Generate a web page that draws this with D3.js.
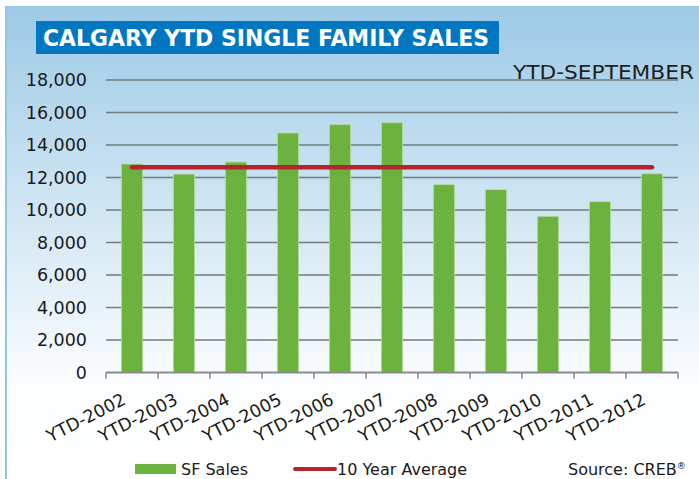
<!DOCTYPE html>
<html>
<head>
<meta charset="utf-8">
<script src="https://cdn.jsdelivr.net/npm/d3@7"></script>
<style>
  body { margin: 0; background: #fff; }
  text { font-family: "DejaVu Sans", sans-serif; }
</style>
</head>
<body>
<div id="chart"></div>
<script>
// data
const years = ["YTD-2002", "YTD-2003", "YTD-2004", "YTD-2005", "YTD-2006", "YTD-2007",
               "YTD-2008", "YTD-2009", "YTD-2010", "YTD-2011", "YTD-2012"];
const sfSales = [12830, 12210, 12950, 14740, 15250, 15370, 11560, 11250, 9610, 10510, 12230];
const tenYearAvg = 12630;
const yTicks = [0, 2000, 4000, 6000, 8000, 10000, 12000, 14000, 16000, 18000];

const W = 699, H = 479;
const margin = {top: 80, right: 21, bottom: 106.5, left: 106};
const width = W - margin.left - margin.right,
      height = H - margin.top - margin.bottom;

const svg = d3.select("#chart")
  .append("svg")
    .attr("width", W)
    .attr("height", H);

// background panel gradient
const grad = svg.append("defs").append("linearGradient")
    .attr("id", "bg").attr("x1", 0).attr("y1", 0).attr("x2", 0).attr("y2", 1);
grad.append("stop").attr("offset", "0%").attr("stop-color", "#9ccae6");
grad.append("stop").attr("offset", "40%").attr("stop-color", "#cde4f2");
grad.append("stop").attr("offset", "80%").attr("stop-color", "#fbfdfe");
grad.append("stop").attr("offset", "100%").attr("stop-color", "#ffffff");

svg.append("rect")
    .attr("x", 5).attr("y", 6)
    .attr("width", W - 5).attr("height", H - 6)
    .attr("fill", "url(#bg)");
svg.append("line")
    .attr("x1", 6).attr("x2", 6).attr("y1", 6).attr("y2", H)
    .attr("stroke", "#93c4e3").attr("stroke-width", 2);

// title
svg.append("rect")
    .attr("x", 36).attr("y", 21)
    .attr("width", 463).attr("height", 33)
    .attr("fill", "#0077c0");
svg.append("text")
    .attr("x", 43).attr("y", 46)
    .attr("textLength", 446)
    .attr("lengthAdjust", "spacingAndGlyphs")
    .attr("font-family", "'Open Sans', sans-serif")
    .attr("font-size", "23px")
    .attr("font-weight", 600)
    .attr("fill", "#fff")
    .text("CALGARY YTD SINGLE FAMILY SALES");

const g = svg.append("g")
    .attr("transform", `translate(${margin.left},${margin.top})`);

// scales
const x = d3.scaleBand()
    .domain(years)
    .range([0, width])
    .padding(0);
const y = d3.scaleLinear()
    .domain([0, 18000])
    .range([height, 0]);

// gridlines
g.selectAll(".grid")
  .data(yTicks.filter(d => d > 0))
  .join("line")
    .attr("x1", 0).attr("x2", width)
    .attr("y1", d => y(d)).attr("y2", d => y(d))
    .attr("stroke", "#6f7d7c")
    .attr("stroke-width", 1.6);

// subtitle
svg.append("text")
    .attr("x", 513).attr("y", 79)
    .attr("textLength", 181)
    .attr("lengthAdjust", "spacingAndGlyphs")
    .attr("font-size", "19px")
    .attr("fill", "#1f1f1f")
    .text("YTD-SEPTEMBER");

// Y axis labels
const yAxis = g.append("g")
    .call(d3.axisLeft(y).tickValues(yTicks).tickFormat(d3.format(",")).tickSize(0).tickPadding(19));
yAxis.select(".domain").remove();
yAxis.selectAll("text")
    .attr("font-family", "DejaVu Sans")
    .attr("font-size", "17.5px")
    .attr("fill", "#1a1a1a");

// bars
const barW = x.bandwidth() * 0.41;
g.selectAll(".bar")
  .data(years)
  .join("rect")
    .attr("x", d => x(d) + (x.bandwidth() - barW) / 2)
    .attr("y", (d, i) => y(sfSales[i]))
    .attr("width", barW)
    .attr("height", (d, i) => height - y(sfSales[i]))
    .attr("fill", "#6cb23f")
    .attr("stroke", "#b9dca6")
    .attr("stroke-width", 0.8);

// 10 year average line
g.append("line")
    .attr("x1", x(years[0]) + x.bandwidth() / 2)
    .attr("x2", x(years[years.length - 1]) + x.bandwidth() / 2)
    .attr("y1", y(tenYearAvg)).attr("y2", y(tenYearAvg))
    .attr("stroke", "#b5232b")
    .attr("stroke-width", 4.5)
    .attr("stroke-linecap", "round");

// X axis line + ticks at band edges
g.append("line")
    .attr("x1", 0).attr("x2", width)
    .attr("y1", height).attr("y2", height)
    .attr("stroke", "#8a8a8a").attr("stroke-width", 2);
g.selectAll(".xtick")
  .data(years.map(d => x(d)).concat([width]))
  .join("line")
    .attr("x1", d => d).attr("x2", d => d)
    .attr("y1", height).attr("y2", height + 6)
    .attr("stroke", "#8a8a8a").attr("stroke-width", 1.5);

// X labels, rotated
g.selectAll(".xlabel")
  .data(years)
  .join("text")
    .attr("transform", d => `translate(${x(d) + x.bandwidth() / 2 - 5},${height + 31}) rotate(-27)`)
    .attr("text-anchor", "end")
    .attr("font-size", "17.5px")
    .attr("fill", "#1a1a1a")
    .text(d => d);

// legend
svg.append("rect")
    .attr("x", 135).attr("y", 464)
    .attr("width", 41).attr("height", 10)
    .attr("fill", "#6cb23f");
svg.append("text")
    .attr("x", 181).attr("y", 475)
    .attr("font-size", "16px").attr("fill", "#1a1a1a")
    .text("SF Sales");
svg.append("line")
    .attr("x1", 295).attr("x2", 335)
    .attr("y1", 469).attr("y2", 469)
    .attr("stroke", "#b5232b").attr("stroke-width", 4)
    .attr("stroke-linecap", "round");
svg.append("text")
    .attr("x", 337).attr("y", 475)
    .attr("font-size", "16px").attr("fill", "#1a1a1a")
    .text("10 Year Average");

const src = svg.append("text")
    .attr("x", 568).attr("y", 475)
    .attr("font-size", "16px").attr("fill", "#1a1a1a")
    .text("Source: CREB");
src.append("tspan")
    .attr("font-size", "9px")
    .attr("dy", -6)
    .text("®");
</script>
</body>
</html>
